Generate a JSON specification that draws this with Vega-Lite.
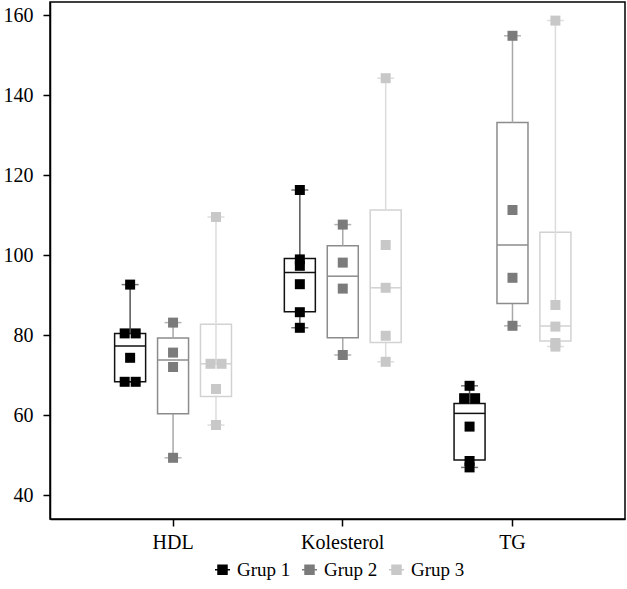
{
  "$schema": "https://vega.github.io/schema/vega-lite/v6.json",
  "width": 575,
  "height": 517,
  "autosize": "none",
  "padding": {"left": 50, "top": 2, "right": 2, "bottom": 70},
  "background": "white",
  "config": {
    "font": "Liberation Serif",
    "view": {"stroke": "#000", "strokeWidth": 1.5},
    "axis": {"labelFont": "Liberation Serif", "labelFontSize": 20, "labelColor": "#000", "domainColor": "#000", "domainWidth": 1.5, "tickColor": "#000", "tickWidth": 1.5, "tickSize": 7, "grid": false}
  },
  "datasets": {
    "box": [
      {"param": "HDL", "group": "Grup 1", "q1": 68.3, "median": 77.25, "q3": 80.4, "min": 68.3, "max": 92.6, "upFrom": 80.4},
      {"param": "HDL", "group": "Grup 2", "q1": 60.3, "median": 73.75, "q3": 79.25, "min": 49.3, "max": 83.1, "upFrom": 79.25},
      {"param": "HDL", "group": "Grup 3", "q1": 64.6, "median": 72.8, "q3": 82.7, "min": 57.5, "max": 109.5, "upFrom": 72.8},
      {"param": "Kolesterol", "group": "Grup 1", "q1": 85.8, "median": 95.6, "q3": 99.1, "min": 81.8, "max": 116.25, "upFrom": 99.1},
      {"param": "Kolesterol", "group": "Grup 2", "q1": 79.3, "median": 94.7, "q3": 102.3, "min": 75.0, "max": 107.6, "upFrom": 102.3},
      {"param": "Kolesterol", "group": "Grup 3", "q1": 78.1, "median": 91.8, "q3": 111.25, "min": 73.3, "max": 144.2, "upFrom": 111.25},
      {"param": "TG", "group": "Grup 1", "q1": 48.75, "median": 60.4, "q3": 62.9, "min": 46.9, "max": 67.3, "upFrom": 62.9},
      {"param": "TG", "group": "Grup 2", "q1": 87.9, "median": 102.5, "q3": 133.1, "min": 82.3, "max": 154.8, "upFrom": 133.1},
      {"param": "TG", "group": "Grup 3", "q1": 78.5, "median": 82.25, "q3": 105.7, "min": 77.1, "max": 158.6, "upFrom": 87.5}
    ],
    "pts": [
      {"param": "HDL", "group": "Grup 1", "value": 92.6, "dodge": "none"},
      {"param": "HDL", "group": "Grup 1", "value": 80.4, "dodge": "L"},
      {"param": "HDL", "group": "Grup 1", "value": 80.4, "dodge": "R"},
      {"param": "HDL", "group": "Grup 1", "value": 74.3, "dodge": "none"},
      {"param": "HDL", "group": "Grup 1", "value": 68.3, "dodge": "L"},
      {"param": "HDL", "group": "Grup 1", "value": 68.3, "dodge": "R"},
      {"param": "HDL", "group": "Grup 2", "value": 83.1, "dodge": "none"},
      {"param": "HDL", "group": "Grup 2", "value": 75.6, "dodge": "none"},
      {"param": "HDL", "group": "Grup 2", "value": 72.0, "dodge": "none"},
      {"param": "HDL", "group": "Grup 2", "value": 49.3, "dodge": "none"},
      {"param": "HDL", "group": "Grup 3", "value": 109.5, "dodge": "none"},
      {"param": "HDL", "group": "Grup 3", "value": 72.8, "dodge": "L"},
      {"param": "HDL", "group": "Grup 3", "value": 72.8, "dodge": "R"},
      {"param": "HDL", "group": "Grup 3", "value": 66.5, "dodge": "none"},
      {"param": "HDL", "group": "Grup 3", "value": 57.5, "dodge": "none"},
      {"param": "Kolesterol", "group": "Grup 1", "value": 116.25, "dodge": "none"},
      {"param": "Kolesterol", "group": "Grup 1", "value": 98.9, "dodge": "none"},
      {"param": "Kolesterol", "group": "Grup 1", "value": 97.3, "dodge": "none"},
      {"param": "Kolesterol", "group": "Grup 1", "value": 92.7, "dodge": "none"},
      {"param": "Kolesterol", "group": "Grup 1", "value": 85.7, "dodge": "none"},
      {"param": "Kolesterol", "group": "Grup 1", "value": 81.8, "dodge": "none"},
      {"param": "Kolesterol", "group": "Grup 2", "value": 107.6, "dodge": "none"},
      {"param": "Kolesterol", "group": "Grup 2", "value": 98.1, "dodge": "none"},
      {"param": "Kolesterol", "group": "Grup 2", "value": 91.6, "dodge": "none"},
      {"param": "Kolesterol", "group": "Grup 2", "value": 75.0, "dodge": "none"},
      {"param": "Kolesterol", "group": "Grup 3", "value": 144.2, "dodge": "none"},
      {"param": "Kolesterol", "group": "Grup 3", "value": 102.5, "dodge": "none"},
      {"param": "Kolesterol", "group": "Grup 3", "value": 91.8, "dodge": "none"},
      {"param": "Kolesterol", "group": "Grup 3", "value": 79.8, "dodge": "none"},
      {"param": "Kolesterol", "group": "Grup 3", "value": 73.3, "dodge": "none"},
      {"param": "TG", "group": "Grup 1", "value": 67.3, "dodge": "none"},
      {"param": "TG", "group": "Grup 1", "value": 64.2, "dodge": "L"},
      {"param": "TG", "group": "Grup 1", "value": 64.2, "dodge": "R"},
      {"param": "TG", "group": "Grup 1", "value": 57.1, "dodge": "none"},
      {"param": "TG", "group": "Grup 1", "value": 48.5, "dodge": "none"},
      {"param": "TG", "group": "Grup 1", "value": 46.9, "dodge": "none"},
      {"param": "TG", "group": "Grup 2", "value": 154.8, "dodge": "none"},
      {"param": "TG", "group": "Grup 2", "value": 111.25, "dodge": "none"},
      {"param": "TG", "group": "Grup 2", "value": 94.3, "dodge": "none"},
      {"param": "TG", "group": "Grup 2", "value": 82.3, "dodge": "none"},
      {"param": "TG", "group": "Grup 3", "value": 158.6, "dodge": "none"},
      {"param": "TG", "group": "Grup 3", "value": 87.5, "dodge": "none"},
      {"param": "TG", "group": "Grup 3", "value": 82.1, "dodge": "none"},
      {"param": "TG", "group": "Grup 3", "value": 78.0, "dodge": "none"},
      {"param": "TG", "group": "Grup 3", "value": 77.1, "dodge": "none"}
    ]
  },
  "encoding": {
    "x": {"field": "param", "type": "nominal", "title": null,
      "scale": {"domain": ["HDL", "Kolesterol", "TG"], "paddingInner": 0, "paddingOuter": 0.194, "align": 0.58},
      "axis": {"labelAngle": 0, "labelPadding": 6}}
  },
  "layer": [
    {
      "data": {"name": "box"},
      "mark": {"type": "rule", "strokeWidth": 1.5},
      "encoding": {
        "xOffset": {"field": "group", "type": "nominal", "scale": {"type": "band", "domain": ["Grup 1", "Grup 2", "Grup 3"], "paddingInner": 0, "paddingOuter": 0.477}},
        "y": {"field": "min", "type": "quantitative", "title": null, "scale": {"domain": [34, 163.25], "nice": false, "zero": false},
          "axis": {"values": [40, 60, 80, 100, 120, 140, 160], "labelPadding": 10}},
        "y2": {"field": "q1"},
        "stroke": {"field": "group", "type": "nominal", "legend": null, "scale": {"domain": ["Grup 1", "Grup 2", "Grup 3"], "range": ["#555555", "#a8a8a8", "#dcdcdc"]}}
      }
    },
    {
      "data": {"name": "box"},
      "mark": {"type": "tick", "size": 17, "thickness": 1.5, "opacity": 1},
      "encoding": {
        "xOffset": {"field": "group", "type": "nominal", "scale": {"type": "band", "domain": ["Grup 1", "Grup 2", "Grup 3"], "paddingInner": 0, "paddingOuter": 0.477}},
        "y": {"field": "min", "type": "quantitative", "title": null, "scale": {"domain": [34, 163.25], "nice": false, "zero": false}},
        "fill": {"field": "group", "type": "nominal", "legend": null, "scale": {"domain": ["Grup 1", "Grup 2", "Grup 3"], "range": ["#777777", "#b4b4b4", "#dedede"]}}
      }
    },
    {
      "data": {"name": "box"},
      "mark": {"type": "tick", "size": 17, "thickness": 1.5, "opacity": 1},
      "encoding": {
        "xOffset": {"field": "group", "type": "nominal", "scale": {"type": "band", "domain": ["Grup 1", "Grup 2", "Grup 3"], "paddingInner": 0, "paddingOuter": 0.477}},
        "y": {"field": "max", "type": "quantitative", "title": null, "scale": {"domain": [34, 163.25], "nice": false, "zero": false}},
        "fill": {"field": "group", "type": "nominal", "legend": null, "scale": {"domain": ["Grup 1", "Grup 2", "Grup 3"], "range": ["#777777", "#b4b4b4", "#dedede"]}}
      }
    },
    {
      "data": {"name": "box"},
      "mark": {"type": "bar", "size": 31, "fill": "white", "strokeWidth": 1.5},
      "encoding": {
        "xOffset": {"field": "group", "type": "nominal", "scale": {"type": "band", "domain": ["Grup 1", "Grup 2", "Grup 3"], "paddingInner": 0, "paddingOuter": 0.477}},
        "y": {"field": "q1", "type": "quantitative", "title": null, "scale": {"domain": [34, 163.25], "nice": false, "zero": false}},
        "y2": {"field": "q3"},
        "stroke": {"field": "group", "type": "nominal", "legend": null, "scale": {"domain": ["Grup 1", "Grup 2", "Grup 3"], "range": ["#111111", "#8c8c8c", "#d2d2d2"]}}
      }
    },
    {
      "data": {"name": "box"},
      "mark": {"type": "tick", "size": 31, "thickness": 1.5, "opacity": 1},
      "encoding": {
        "xOffset": {"field": "group", "type": "nominal", "scale": {"type": "band", "domain": ["Grup 1", "Grup 2", "Grup 3"], "paddingInner": 0, "paddingOuter": 0.477}},
        "y": {"field": "median", "type": "quantitative", "title": null, "scale": {"domain": [34, 163.25], "nice": false, "zero": false}},
        "fill": {"field": "group", "type": "nominal", "legend": null, "scale": {"domain": ["Grup 1", "Grup 2", "Grup 3"], "range": ["#111111", "#8c8c8c", "#d2d2d2"]}}
      }
    },
    {
      "data": {"name": "box"},
      "mark": {"type": "rule", "strokeWidth": 1.5},
      "encoding": {
        "xOffset": {"field": "group", "type": "nominal", "scale": {"type": "band", "domain": ["Grup 1", "Grup 2", "Grup 3"], "paddingInner": 0, "paddingOuter": 0.477}},
        "y": {"field": "upFrom", "type": "quantitative", "title": null, "scale": {"domain": [34, 163.25], "nice": false, "zero": false}},
        "y2": {"field": "max"},
        "stroke": {"field": "group", "type": "nominal", "legend": null, "scale": {"domain": ["Grup 1", "Grup 2", "Grup 3"], "range": ["#555555", "#a8a8a8", "#dcdcdc"]}}
      }
    },
    {
      "data": {"name": "pts"},
      "transform": [{"filter": "datum.dodge === 'none'"}],
      "mark": {"type": "point", "shape": "square", "filled": true, "size": 100, "opacity": 1},
      "encoding": {
        "xOffset": {"field": "group", "type": "nominal", "scale": {"type": "band", "domain": ["Grup 1", "Grup 2", "Grup 3"], "paddingInner": 0, "paddingOuter": 0.477}},
        "y": {"field": "value", "type": "quantitative", "title": null, "scale": {"domain": [34, 163.25], "nice": false, "zero": false}},
        "color": {"field": "group", "type": "nominal", "scale": {"domain": ["Grup 1", "Grup 2", "Grup 3"], "range": ["#000000", "#7b7b7b", "#c8c8c8"]},
          "legend": {"orient": "none", "legendX": 163, "legendY": 558, "direction": "horizontal", "title": null,
            "symbolType": "M-1,0H1M-0.6,-0.6H0.6V0.6H-0.6Z", "symbolSize": 225, "symbolStrokeWidth": 1.5, "symbolOpacity": 1,
            "labelFont": "Liberation Serif", "labelFontSize": 19, "labelColor": "#000", "labelOffset": 5, "columnPadding": 8,
            "encode": {"symbols": {"update": {"stroke": {"scale": "color", "field": "value"}, "fill": {"scale": "color", "field": "value"}}}}}}
      }
    },
    {
      "data": {"name": "pts"},
      "transform": [{"filter": "datum.dodge === 'L'"}],
      "mark": {"type": "point", "shape": "square", "filled": true, "size": 100, "opacity": 1},
      "encoding": {
        "xOffset": {"field": "group", "type": "nominal", "scale": {"type": "band", "domain": ["Grup 1", "Grup 2", "Grup 3"], "paddingInner": 0, "paddingOuter": 0.477, "align": 0.367}},
        "y": {"field": "value", "type": "quantitative", "title": null, "scale": {"domain": [34, 163.25], "nice": false, "zero": false}},
        "color": {"field": "group", "type": "nominal", "scale": {"domain": ["Grup 1", "Grup 2", "Grup 3"], "range": ["#000000", "#7b7b7b", "#c8c8c8"]},
          "legend": {"orient": "none", "legendX": 163, "legendY": 558, "direction": "horizontal", "title": null,
            "symbolType": "M-1,0H1M-0.6,-0.6H0.6V0.6H-0.6Z", "symbolSize": 225, "symbolStrokeWidth": 1.5, "symbolOpacity": 1,
            "labelFont": "Liberation Serif", "labelFontSize": 19, "labelColor": "#000", "labelOffset": 5, "columnPadding": 8,
            "encode": {"symbols": {"update": {"stroke": {"scale": "color", "field": "value"}, "fill": {"scale": "color", "field": "value"}}}}}}
      }
    },
    {
      "data": {"name": "pts"},
      "transform": [{"filter": "datum.dodge === 'R'"}],
      "mark": {"type": "point", "shape": "square", "filled": true, "size": 100, "opacity": 1},
      "encoding": {
        "xOffset": {"field": "group", "type": "nominal", "scale": {"type": "band", "domain": ["Grup 1", "Grup 2", "Grup 3"], "paddingInner": 0, "paddingOuter": 0.477, "align": 0.636}},
        "y": {"field": "value", "type": "quantitative", "title": null, "scale": {"domain": [34, 163.25], "nice": false, "zero": false}},
        "color": {"field": "group", "type": "nominal", "scale": {"domain": ["Grup 1", "Grup 2", "Grup 3"], "range": ["#000000", "#7b7b7b", "#c8c8c8"]},
          "legend": {"orient": "none", "legendX": 163, "legendY": 558, "direction": "horizontal", "title": null,
            "symbolType": "M-1,0H1M-0.6,-0.6H0.6V0.6H-0.6Z", "symbolSize": 225, "symbolStrokeWidth": 1.5, "symbolOpacity": 1,
            "labelFont": "Liberation Serif", "labelFontSize": 19, "labelColor": "#000", "labelOffset": 5, "columnPadding": 8,
            "encode": {"symbols": {"update": {"stroke": {"scale": "color", "field": "value"}, "fill": {"scale": "color", "field": "value"}}}}}}
      }
    }
  ],
  "resolve": {"scale": {"stroke": "independent", "fill": "independent", "xOffset": "independent"}}
}
